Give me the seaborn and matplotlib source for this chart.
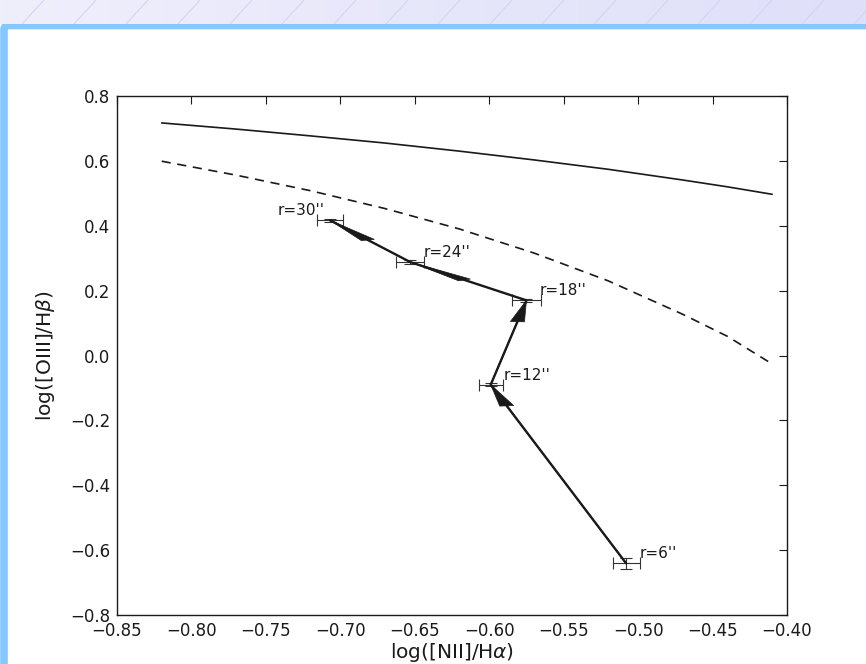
import numpy as np
import pandas as pd
import seaborn as sns
import matplotlib.pyplot as plt
from matplotlib.patches import FancyBboxPatch
from matplotlib.colors import LinearSegmentedColormap

# demarcation curves
curve_x = [-0.82, -0.77, -0.72, -0.67, -0.62, -0.57, -0.52, -0.47, -0.44, -0.41]
solid_y = [0.717, 0.698, 0.677, 0.655, 0.630, 0.603, 0.574, 0.541, 0.520, 0.497]
dashed_y = [0.599, 0.556, 0.508, 0.453, 0.390, 0.316, 0.230, 0.127, 0.059, -0.026]

# radial points
radius = ["r=6''", "r=12''", "r=18''", "r=24''", "r=30''"]
nii_ha = [-0.508, -0.599, -0.575, -0.653, -0.707]
oiii_hb = [-0.641, -0.090, 0.170, 0.288, 0.417]
nii_err = [0.009, 0.008, 0.010, 0.0094, 0.0087]
oiii_err = [0.017, 0.005, 0.005, 0.005, 0.005]

sns.set_theme(style="white")
plt.rcParams['font.family'] = ['DejaVu Sans']
plt.rcParams['text.color'] = 'k'

fig = plt.figure(figsize=(8.66, 6.64), dpi=100, facecolor="white")

# page decoration: header band with hatching and blue frame
band = fig.add_axes([0, 1 - 24 / 664, 1, 24 / 664])
grad = np.linspace(0, 1, 256).reshape(1, -1)
cmap = LinearSegmentedColormap.from_list("band", ["#efeffc", "#dfdff9"])
band.imshow(grad, aspect="auto", cmap=cmap, extent=[0, 866, 0, 24])
for x0 in np.arange(-30, 900, 52):
    band.plot([x0, x0 + 22], [0, 24], color="#d2d6f4", lw=0.8)
band.set_xlim(0, 866)
band.set_ylim(0, 24)
band.axis("off")

frame = FancyBboxPatch((4 / 866, -0.2), 1.2, 1 - 25.5 / 664 + 0.2,
                       boxstyle="round,pad=0,rounding_size=0.006",
                       transform=fig.transFigure, facecolor="white",
                       edgecolor="#85c8ff", lw=5.5, zorder=-5)
fig.patches.append(frame)

ax = fig.add_axes([117 / 866, 1 - 615 / 664, 670 / 866, 519 / 664])
ax.set_zorder(2)
ax.set_facecolor("white")

df_curves = pd.DataFrame({"x": curve_x, "solid": solid_y, "dashed": dashed_y})
sns.lineplot(data=df_curves, x="x", y="solid", ax=ax, color="k", lw=1.2)
sns.lineplot(data=df_curves, x="x", y="dashed", ax=ax, color="k", lw=1.2,
             linestyle=(0, (5.5, 4)))

ax.plot(nii_ha, oiii_hb, color="k", lw=1.7, zorder=3)
ax.errorbar(nii_ha, oiii_hb, xerr=nii_err, yerr=oiii_err, fmt="none",
            ecolor="#333333", elinewidth=0.8, capsize=4, capthick=0.8, zorder=2)

for i in range(len(nii_ha) - 1):
    ax.arrow(nii_ha[i], oiii_hb[i], nii_ha[i + 1] - nii_ha[i], oiii_hb[i + 1] - oiii_hb[i],
             width=0.0005, head_width=0.0095, head_length=0.066,
             length_includes_head=True, fc="k", ec="k", lw=0.5, zorder=4)

for i, lab in enumerate(radius):
    if lab == "r=30''":
        ax.text(nii_ha[i] - 0.035, oiii_hb[i] + 0.016, lab, fontsize=11)
    else:
        ax.text(nii_ha[i] + 0.009, oiii_hb[i] + 0.016, lab, fontsize=11)


def fmt(v, nd):
    if abs(v) < 1e-9:
        v = 0.0
    return f"{v:.{nd}f}".replace("-", "\u2212")


ax.set_xlim(-0.85, -0.40)
ax.set_ylim(-0.8, 0.8)
ax.set_xticks(np.arange(-0.85, -0.399, 0.05))
ax.set_yticks(np.arange(-0.8, 0.801, 0.2))
ax.xaxis.set_major_formatter(plt.FuncFormatter(lambda v, p: fmt(v, 2)))
ax.yaxis.set_major_formatter(plt.FuncFormatter(lambda v, p: fmt(v, 1)))
ax.tick_params(direction="in", length=6, width=0.8, top=True, right=True,
               labelsize=12, colors="k", pad=5)
for s in ax.spines.values():
    s.set_color("k")
    s.set_linewidth(1.0)

ax.set_xlabel(r"log([NII]/H$\alpha$)", fontsize=14.5, color="k", labelpad=1)
ax.set_ylabel(r"log([OIII]/H$\beta$)", fontsize=14.5, color="k", labelpad=9)

plt.savefig("out.png", dpi=100)
